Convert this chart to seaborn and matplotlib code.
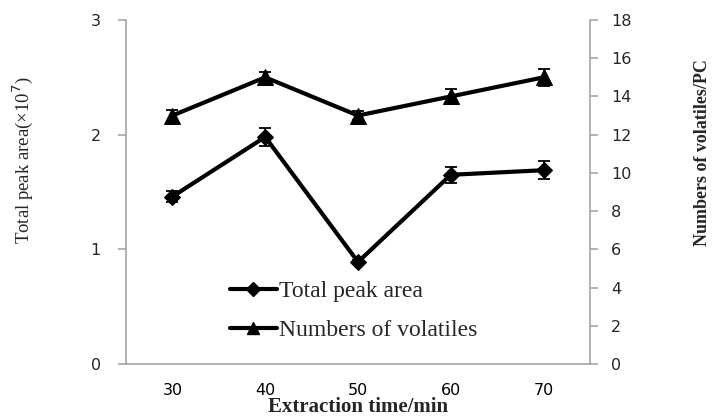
import matplotlib
matplotlib.use("Agg")
import matplotlib.pyplot as plt
import seaborn as sns
import pandas as pd
from matplotlib.lines import Line2D

# Data
times = [30, 40, 50, 60, 70]
peak_area = [1.46, 1.98, 0.89, 1.65, 1.69]
peak_err = [0.05, 0.08, 0.02, 0.07, 0.08]
volatiles = [13, 15, 13, 14, 15]
vol_err = [0.3, 0.3, 0.25, 0.4, 0.45]

sns.set_style("white")
plt.rcParams['font.family'] = ['DejaVu Sans']

fig = plt.figure(figsize=(7.21, 4.18), dpi=100)
ax = fig.add_axes([126/721, 1-364/418, (590-126)/721, (364-20)/418])
ax2 = ax.twinx()

df = pd.DataFrame({"time": times, "area": peak_area, "vol": volatiles})

gray = "#a6a6a6"
sns.lineplot(data=df, x="time", y="area", ax=ax, color="black", lw=3,
             marker="D", markersize=8.5, markeredgecolor="black", legend=False)
ax.errorbar(times, peak_area, yerr=peak_err, fmt="none", ecolor="black",
            elinewidth=1.3, capsize=4, capthick=1.3)
sns.lineplot(data=df, x="time", y="vol", ax=ax2, color="black", lw=3,
             marker="^", markersize=11, markeredgecolor="black", legend=False)
ax2.errorbar(times, volatiles, yerr=vol_err, fmt="none", ecolor="black",
             elinewidth=1.3, capsize=4, capthick=1.3)

ax.set_xlim(25, 75)
ax.set_ylim(0, 3)
ax2.set_ylim(0, 18)
ax.set_xticks([30, 40, 50, 60, 70])
ax.set_xticks([25, 35, 45, 55, 65, 75], minor=True)
ax.set_yticks([0, 1, 2, 3])
ax2.set_yticks(range(0, 19, 2))

for a in (ax, ax2):
    for s in a.spines.values():
        s.set_color(gray)
        s.set_linewidth(1.2)
    a.spines['top'].set_visible(False)
ax.spines['right'].set_visible(False)
ax2.spines['left'].set_visible(False)
ax2.spines['bottom'].set_visible(False)

ax.tick_params(axis='x', which='major', length=0, labelsize=11.5, pad=14, colors='black')
ax.tick_params(axis='x', which='minor', length=6, color=gray, width=1.2, direction='out')
ax.tick_params(axis='y', length=6, color=gray, width=1.2, direction='out', labelsize=11.5, pad=12)
ax2.tick_params(axis='y', length=6, color=gray, width=1.2, direction='out', labelsize=11.5, pad=9)

ax.set_xlabel("Extraction time/min", family="Liberation Serif", fontweight="bold",
              fontsize=15)
ax.xaxis.set_label_coords(0.5, -33/344, transform=ax.transAxes)
ax.set_ylabel("Total peak area(\u00d710$^7$)", family="Liberation Serif",
              fontsize=13.5)
ax.yaxis.set_label_coords(-91/464, (364-160)/344, transform=ax.transAxes)
ax2.set_ylabel("Numbers of volatiles/PC", family="Liberation Serif", fontweight="bold",
               fontsize=13, rotation=90)
ax2.yaxis.set_label_position("right")
ax2.yaxis.set_label_coords(568/464, (364-153)/344, transform=ax.transAxes)

handles = [Line2D([], [], color="black", lw=3, marker="D", markersize=7),
           Line2D([], [], color="black", lw=3, marker="^", markersize=9)]
leg = ax.legend(handles, ["Total peak area", "Numbers of volatiles"],
                loc="upper left", bbox_to_anchor=(0.178, 0.305), frameon=False,
                prop={"family": "Liberation Serif", "size": 17},
                labelspacing=0.75, handlelength=2.0, handletextpad=0.1)

fig.savefig("out.png", dpi=100)
